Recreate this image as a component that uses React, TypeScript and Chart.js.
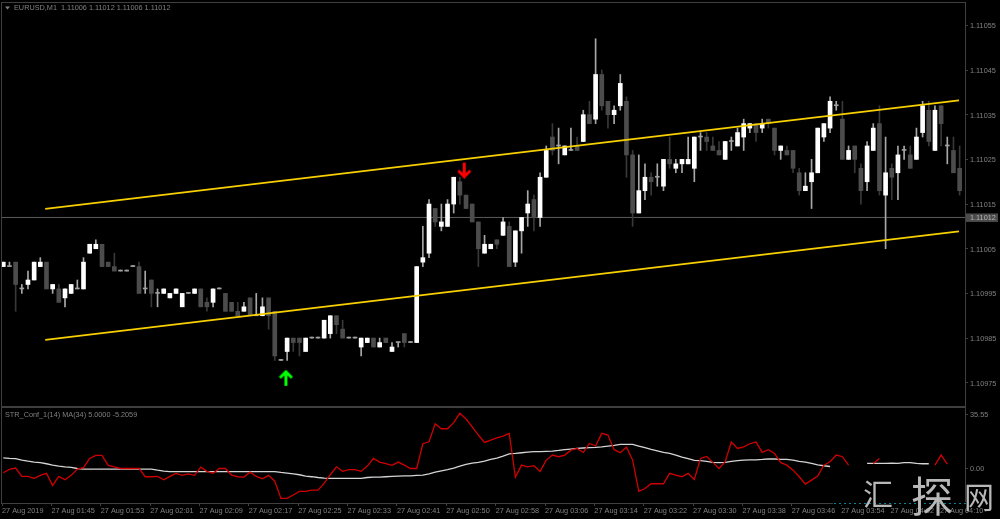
import { useEffect, useRef } from "react";
import { Chart, registerables } from "chart.js";

Chart.register(...registerables);

// Prices are written as points above 1.10000 (1001 = 1.11001)
const opens = [1001,1001,1002,996,997,998,1001,1002,996,996,994,995,996,996,1004,1005,1006,1002,1001,1000,1000,1001,1001,996,998,995,995,994,995,992,995,995,996,993,993,996,995,993,991,991,994,990,990,994,991,980,982,985,985,982,985,985,985,986,990,987,985,985,983,984,985,983,985,982,984,986,984,984,1002,1004,1014,1010,1010,1015,1020,1017,1015,1011,1004,1005,1007,1008,1010,1002,1009,1013,1016,1012,1021,1030,1028,1026,1027,1028,1029,1035,1034,1044,1038,1035,1037,1038,1026,1013,1018,1021,1021,1019,1025,1023,1024,1024,1023,1030,1030,1028,1027,1025,1029,1028,1030,1032,1033,1032,1034,1032,1027,1027,1027,1022,1018,1020,1022,1030,1032,1037,1034,1025,1028,1023,1020,1027,1033,1017,1023,1022,1027,1026,1025,1031,1036,1027,1037,1028,1027,1023];
const highs = [1002,1002,1002,997,1000,1002,1003,1002,997,997,996,997,998,1003,1006,1007,1006,1002,1004,1000,1000,1001,1002,1000,998,996,996,995,996,995,995,996,996,994,996,996,995,993,993,993,994,995,994,994,991,980,985,985,985,985,985,985,989,990,990,989,985,985,985,985,985,985,985,984,984,986,984,1001,1010,1016,1014,1015,1016,1021,1021,1017,1015,1011,1008,1006,1007,1012,1011,1009,1012,1018,1017,1022,1028,1033,1032,1028,1032,1030,1036,1038,1052,1045,1038,1037,1044,1039,1027,1026,1024,1022,1024,1025,1030,1025,1025,1030,1030,1031,1031,1030,1029,1029,1030,1032,1034,1033,1033,1034,1034,1032,1028,1028,1027,1023,1022,1025,1032,1033,1039,1038,1038,1028,1028,1024,1029,1033,1037,1030,1024,1028,1028,1028,1032,1038,1038,1037,1037,1030,1030,1028];
const lows = [1001,1001,991,995,996,998,1001,996,995,993,992,995,996,996,1004,1005,1001,1001,1000,1000,1000,1001,995,995,992,992,995,994,995,992,995,995,992,991,992,996,991,991,990,991,990,990,990,987,980,980,980,982,981,982,985,985,985,985,986,985,985,985,981,984,983,983,984,982,983,983,984,984,1001,1003,1010,1009,1010,1013,1015,1014,1011,1001,1004,1005,1005,1008,1001,1001,1004,1010,1009,1010,1021,1026,1024,1026,1027,1027,1029,1033,1033,1036,1032,1033,1036,1021,1010,1013,1016,1017,1019,1018,1023,1022,1022,1024,1020,1027,1027,1027,1026,1025,1027,1028,1027,1031,1029,1031,1032,1026,1025,1026,1022,1017,1018,1014,1022,1029,1031,1036,1025,1025,1022,1015,1018,1027,1017,1005,1016,1016,1025,1023,1025,1030,1028,1027,1028,1024,1022,1017];
const closes = [1002,1001,997,996,998,1002,1002,996,997,993,996,997,996,1002,1006,1006,1001,1001,1000,1000,1000,1001,995,996,995,995,996,995,996,995,995,996,992,992,996,996,991,991,990,992,990,990,992,990,981,980,985,984,984,985,985,985,989,990,988,985,985,985,985,985,983,984,984,983,984,984,984,1001,1003,1015,1011,1011,1015,1021,1017,1014,1011,1005,1006,1006,1006,1011,1001,1009,1012,1015,1012,1021,1027,1027,1028,1028,1027,1027,1035,1033,1044,1037,1035,1036,1042,1026,1013,1018,1021,1020,1021,1025,1024,1024,1025,1025,1030,1030,1029,1027,1026,1029,1029,1031,1033,1033,1031,1033,1033,1027,1028,1026,1023,1018,1019,1022,1032,1033,1038,1037,1025,1027,1025,1018,1028,1032,1018,1022,1021,1026,1027,1023,1030,1037,1029,1036,1033,1028,1022,1018];

const currentPrice = 1012;
const priceTicks = [975,985,995,1005,1015,1025,1035,1045,1055];
const upperChannel = [1013.9, 1038.2];
const lowerChannel = [984.6, 1008.9];
const channelIndex = [6.8, 154.9];
const buyArrow = { index: 45.8, price: 976 };
const sellArrow = { index: 74.7, price: 1022.6 };

const strLine = [-2.9,-0.7,0.2,-5.3,-5.3,-6.6,-4.6,-3.3,-11.2,-5.3,-7.5,-4.6,-0.5,0.4,6.5,8.5,8.5,1.9,1.0,-0.1,-0.1,-0.1,-0.1,-5.5,-5.5,-5.3,-7.5,-5.3,-3.3,-4.6,-3.6,-4.6,0.8,-2.0,-3.3,-0.1,-0.1,-4.4,-5.5,-5.7,-2.5,-5.3,-6.8,-4.6,-8.4,-19.7,-19.7,-17.5,-15.1,-15.1,-14.3,-14.3,-9.9,-4.2,1.0,-2.0,-0.9,-0.9,-2.0,1.5,6.5,4.1,3.0,1.9,4.1,2.1,-0.1,-0.1,16.1,17.4,29.2,25.9,25.9,29.9,36.0,32.3,27.2,21.8,17.0,18.5,20.0,21.1,22.9,-5.7,2.1,1.0,1.7,-2.0,5.4,8.7,7.6,8.7,11.9,13.0,10.4,16.3,14.6,22.9,21.8,12.2,10.2,13.9,5.4,-15.1,-13.2,-10.1,-10.1,-10.1,-3.3,-4.4,-5.5,-3.3,-7.3,6.5,7.8,3.9,-0.1,4.3,17.2,13.0,14.1,16.1,17.2,10.4,12.2,9.8,3.7,2.1,-1.2,-5.5,-10.3,-7.7,-5.1,2.1,4.3,8.7,7.6,2.1,null,null,null,3.2,6.5,null,null,null,null,null,null,null,null,2.1,8.7,2.8,null,null];
const maLine = [6.9,6.5,6.3,5.4,4.7,4.1,3.7,3.0,2.1,1.5,1.0,0.6,-0.1,-0.5,-0.5,-0.5,-0.5,-0.5,-0.5,-0.5,-0.5,-0.5,-0.5,-0.5,-0.5,-1.2,-1.8,-2.2,-2.2,-2.2,-2.2,-2.2,-2.2,-2.2,-2.2,-2.2,-2.2,-2.2,-2.2,-2.2,-2.2,-2.2,-2.2,-2.2,-2.2,-2.7,-3.1,-3.6,-4.2,-5.1,-5.5,-6.0,-6.4,-6.6,-6.6,-6.6,-6.6,-6.6,-6.6,-6.0,-5.7,-5.7,-5.5,-5.3,-5.1,-4.9,-4.9,-4.6,-4.4,-3.6,-2.5,-1.6,-0.9,0.2,1.5,2.6,3.4,3.9,4.7,5.8,6.7,8.0,9.5,9.8,10.2,10.6,10.9,10.9,11.1,11.3,11.7,12.2,12.6,13.0,13.3,13.5,13.7,14.1,14.6,15.0,15.7,15.7,15.7,14.6,13.5,12.4,11.5,10.4,9.8,8.7,7.4,6.3,5.2,5.0,4.5,3.9,3.7,3.9,4.5,5.0,5.4,5.6,5.6,5.8,6.1,6.1,5.8,5.8,5.4,4.5,4.1,3.2,2.3,1.7,1.2,null,null,null,null,null,3.2,3.2,3.2,3.2,3.4,3.2,3.7,3.7,3.2,3.0,3.0,null,null,null,null,null];
const indicatorTicks = [35.55, 0];
const timeLabels = ["27 Aug 2019","27 Aug 01:45","27 Aug 01:53","27 Aug 02:01","27 Aug 02:09","27 Aug 02:17","27 Aug 02:25","27 Aug 02:33","27 Aug 02:41","27 Aug 02:50","27 Aug 02:58","27 Aug 03:06","27 Aug 03:14","27 Aug 03:22","27 Aug 03:30","27 Aug 03:38","27 Aug 03:46","27 Aug 03:54","27 Aug 04:02","27 Aug 04:10"];
const headerText = "EURUSD,M1  1.11006 1.11012 1.11006 1.11012";
const indicatorText = "STR_Conf_1(14) MA(34) 5.0000 -5.2059";
const watermark = [
  { ch: "汇", size: 30, at: 878, dy: -9 },
  { ch: "探", size: 42, at: 932, dy: -7 },
  { ch: "网", size: 30, at: 979, dy: -6 },
];

const price = (pts: number) => 1.1 + pts / 100000;
const UI_FONT = '"Liberation Sans", sans-serif';
const FRAME = "#3f3f3f";
const TEXT = "#808080";
const CHANNEL = "#f8d000";
const X_MIN = -0.21;
const X_MAX = 155.87;
const AXIS_WIDTH = 35;
const TEXT_SIZE = 7.3;

function arrowImage(color: string, up: boolean) {
  const c = document.createElement("canvas");
  c.width = 15;
  c.height = 17;
  const g = c.getContext("2d")!;
  g.strokeStyle = color;
  g.lineWidth = 3;
  g.lineJoin = "miter";
  if (!up) {
    g.translate(0, 17);
    g.scale(1, -1);
  }
  g.beginPath();
  g.moveTo(7.5, 16);
  g.lineTo(7.5, 2);
  g.moveTo(1.5, 8);
  g.lineTo(7.5, 2);
  g.lineTo(13.5, 8);
  g.stroke();
  return c;
}

const framePlugin = {
  id: "frame",
  beforeDraw(chart: any) {
    const { ctx, width, height, chartArea: a } = chart;
    ctx.save();
    ctx.fillStyle = "#000";
    ctx.fillRect(0, 0, width, height);
    ctx.strokeStyle = FRAME;
    ctx.lineWidth = 1;
    ctx.strokeRect(Math.round(a.left) - 0.5, Math.round(a.top) - 0.5, Math.round(a.right - a.left) + 1, Math.round(a.bottom - a.top) + 1);
    ctx.restore();
  },
};

const mainLabels = {
  id: "mainLabels",
  afterDraw(chart: any) {
    const { ctx, chartArea: a } = chart;
    const y = chart.scales.y.getPixelForValue(price(currentPrice));
    ctx.save();
    ctx.fillStyle = "#4a4a4a";
    ctx.fillRect(a.right + 1, y - 4, 32, 8.5);
    ctx.fillStyle = "#b4b4b4";
    ctx.font = `${TEXT_SIZE}px ${UI_FONT}`;
    ctx.textBaseline = "middle";
    ctx.textAlign = "left";
    ctx.fillText(price(currentPrice).toFixed(5), a.right + 5, y + 0.5);
    ctx.fillStyle = TEXT;
    ctx.fillText(headerText, 14, 8);
    ctx.beginPath();
    ctx.moveTo(5, 6.5);
    ctx.lineTo(10, 6.5);
    ctx.lineTo(7.5, 9.5);
    ctx.closePath();
    ctx.fill();
    ctx.restore();
  },
};

const subLabels = {
  id: "subLabels",
  afterDraw(chart: any) {
    const { ctx, chartArea: a } = chart;
    ctx.save();
    ctx.fillStyle = TEXT;
    ctx.font = `${TEXT_SIZE}px ${UI_FONT}`;
    ctx.textBaseline = "middle";
    ctx.fillText(indicatorText, 5, a.top + 7);
    ctx.restore();
  },
};

const watermarkPlugin = {
  id: "watermark",
  afterDraw(chart: any) {
    const { ctx, chartArea: a } = chart;
    ctx.save();
    ctx.fillStyle = "#000";
    ctx.fillRect(833, a.bottom - 1, a.right - 832, 3);
    ctx.fillStyle = "#0a8296";
    for (let x = 834; x < a.right; x += 5) ctx.fillRect(x, a.bottom, 2, 1);
    ctx.textAlign = "center";
    ctx.textBaseline = "middle";
    ctx.fillStyle = "#b8b8b8";
    watermark.forEach(({ ch, size, at, dy }) => {
      ctx.font = `${size}px "Noto Sans CJK SC", sans-serif`;
      ctx.fillText(ch, at, a.bottom + dy);
    });
    ctx.restore();
  },
};

const fitY = (s: any) => {
  s.width = AXIS_WIDTH;
  s.paddingTop = 0;
  s.paddingBottom = 0;
};

export default function App() {
  const topRef = useRef<HTMLCanvasElement>(null);
  const subRef = useRef<HTMLCanvasElement>(null);

  useEffect(() => {
    const idx = opens.map((_, i) => i);
    const bodyColor = idx.map((i) => (closes[i] > opens[i] ? "#ffffff" : closes[i] === opens[i] ? "#a0a0a0" : "#4c4c4c"));
    const wickColor = idx.map((i) => (closes[i] >= opens[i] ? "#a8a8a8" : "#383838"));

    const top = new Chart(topRef.current!, {
      type: "bar",
      data: {
        datasets: [
          {
            type: "line",
            order: 6,
            data: [{ x: X_MIN, y: price(currentPrice) }, { x: X_MAX, y: price(currentPrice) }],
            borderColor: "#5c5c5c",
            borderWidth: 1,
            pointRadius: 0,
          },
          {
            order: 5,
            grouped: false,
            barThickness: 1,
            minBarLength: 1,
            backgroundColor: wickColor,
            data: idx.map((i) => ({ x: i, y: [price(lows[i]), price(highs[i])] })),
          },
          {
            order: 4,
            grouped: false,
            barThickness: 4,
            minBarLength: 1,
            backgroundColor: bodyColor,
            data: idx.map((i) => ({ x: i, y: [price(opens[i]), price(closes[i])] })),
          },
          {
            type: "line",
            order: 3,
            data: channelIndex.map((x, k) => ({ x, y: price(upperChannel[k]) })),
            borderColor: CHANNEL,
            borderWidth: 1.7,
            pointRadius: 0,
          },
          {
            type: "line",
            order: 2,
            data: channelIndex.map((x, k) => ({ x, y: price(lowerChannel[k]) })),
            borderColor: CHANNEL,
            borderWidth: 1.7,
            pointRadius: 0,
          },
          {
            type: "scatter",
            order: 1,
            data: [{ x: buyArrow.index, y: price(buyArrow.price) }],
            pointStyle: arrowImage("#00ff00", true),
            showLine: false,
          },
          {
            type: "scatter",
            order: 0,
            data: [{ x: sellArrow.index, y: price(sellArrow.price) }],
            pointStyle: arrowImage("#ff0000", false),
            showLine: false,
          },
        ] as any,
      },
      options: {
        responsive: false,
        animation: false,
        layout: { autoPadding: false, padding: { left: 2, top: 3, bottom: 1, right: 0 } },
        plugins: { legend: { display: false }, tooltip: { enabled: false } },
        scales: {
          x: { type: "linear", offset: false, min: X_MIN, max: X_MAX, display: false },
          y: {
            position: "right",
            min: price(969.8),
            max: price(1060),
            afterFit: fitY,
            afterBuildTicks: (s: any) => { s.ticks = priceTicks.map((p) => ({ value: price(p) })); },
            grid: { drawOnChartArea: false, color: FRAME, tickLength: 3 },
            border: { color: FRAME },
            ticks: {
              color: TEXT,
              font: { family: UI_FONT, size: TEXT_SIZE },
              padding: 2,
              labelOffset: 1,
              callback: (v: any) => Number(v).toFixed(5),
            },
          },
        },
      } as any,
      plugins: [framePlugin, mainLabels],
    });

    const sub = new Chart(subRef.current!, {
      type: "line",
      data: {
        datasets: [
          {
            data: idx.map((i) => ({ x: i, y: maLine[i] })),
            borderColor: "#d4d4d4",
            borderWidth: 1.3,
            pointRadius: 0,
            spanGaps: false,
            order: 2,
          },
          {
            data: idx.map((i) => ({ x: i, y: strLine[i] })),
            borderColor: "#d00000",
            borderWidth: 1.3,
            pointRadius: 0,
            spanGaps: false,
            order: 1,
          },
        ],
      },
      options: {
        responsive: false,
        animation: false,
        layout: { autoPadding: false, padding: { left: 2, top: 1, bottom: 0, right: 0 } },
        plugins: { legend: { display: false }, tooltip: { enabled: false } },
        scales: {
          x: {
            type: "linear",
            min: X_MIN,
            max: X_MAX,
            afterBuildTicks: (s: any) => { s.ticks = timeLabels.map((_, k) => ({ value: k * 8 - 0.2 })); },
            afterFit: (s: any) => { s.height = 16; s.paddingLeft = 0; s.paddingRight = 0; },
            grid: { drawOnChartArea: false, color: FRAME, tickLength: 3 },
            border: { color: FRAME },
            ticks: {
              color: TEXT,
              font: { family: UI_FONT, size: TEXT_SIZE },
              align: "start",
              autoSkip: false,
              maxRotation: 0,
              padding: 1,
              callback: (_: any, k: number) => timeLabels[k],
            },
          },
          y: {
            position: "right",
            min: -22.7,
            max: 39.5,
            afterFit: fitY,
            afterBuildTicks: (s: any) => { s.ticks = indicatorTicks.map((value) => ({ value })); },
            grid: { drawOnChartArea: false, color: FRAME, tickLength: 3 },
            border: { color: FRAME },
            ticks: {
              color: TEXT,
              font: { family: UI_FONT, size: TEXT_SIZE },
              padding: 2,
              labelOffset: 1,
              callback: (v: any) => Number(v).toFixed(2),
            },
          },
        },
      } as any,
      plugins: [framePlugin, subLabels, watermarkPlugin],
    });

    return () => {
      top.destroy();
      sub.destroy();
    };
  }, []);

  return (
    <div style={{ position: "fixed", left: 0, top: 0, width: 1000, height: 519, background: "#000", overflow: "hidden" }}>
      <canvas ref={topRef} width={1000} height={407} style={{ position: "absolute", left: 0, top: 0 }} />
      <canvas ref={subRef} width={1000} height={112} style={{ position: "absolute", left: 0, top: 407 }} />
    </div>
  );
}
